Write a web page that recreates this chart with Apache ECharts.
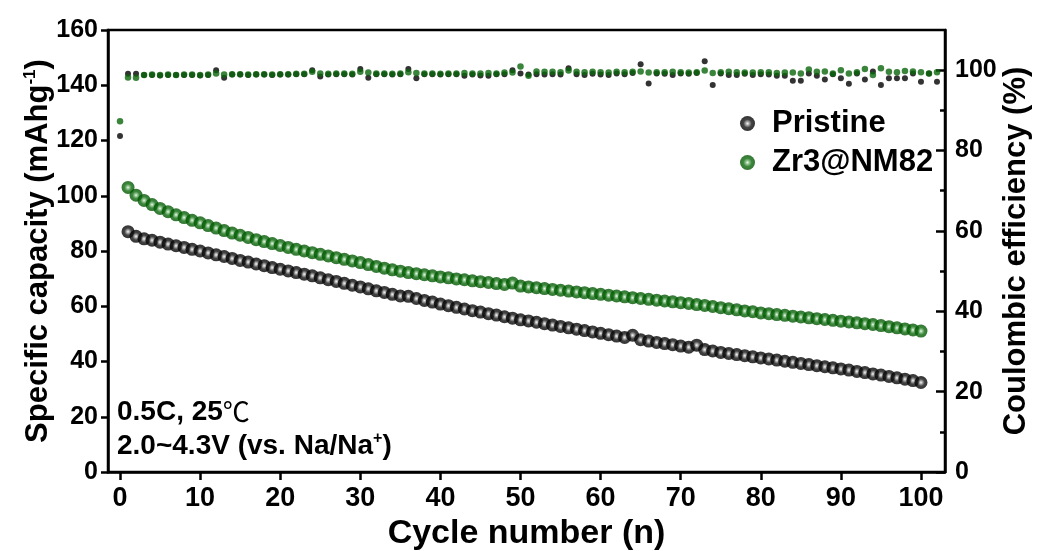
<!DOCTYPE html>
<html><head><meta charset="utf-8">
<script src="https://cdn.jsdelivr.net/npm/echarts@6/dist/echarts.min.js"></script>
<style>html,body{margin:0;padding:0;background:#fff}#c{width:1037px;height:551px}</style>
</head><body><div id="c"></div>
<script>
// Specific capacity, cycles 1..100
const pristineCap = [87.0,85.3,84.4,83.9,83.2,82.5,81.9,81.3,80.6,80.0,
79.3,78.6,78.0,77.3,76.6,76.0,75.3,74.7,74.0,73.4,
72.8,72.2,71.6,71.0,70.3,69.6,69.0,68.3,67.6,67.0,
66.3,65.6,65.0,64.3,63.7,63.6,62.8,62.1,61.5,60.8,
60.2,59.6,59.0,58.4,57.9,57.3,56.8,56.2,55.7,55.1,
54.7,54.2,53.7,53.2,52.7,52.2,51.7,51.2,50.7,50.2,
49.7,49.2,48.7,49.5,47.9,47.4,46.9,46.5,46.1,45.6,
45.2,45.9,44.3,43.8,43.3,42.9,42.5,42.1,41.7,41.3,
40.9,40.5,40.1,39.7,39.3,38.9,38.5,38.1,37.7,37.3,
36.9,36.4,36.0,35.5,35.1,34.6,34.1,33.6,33.1,32.4];
const zrCap = [103.0,100.2,98.3,96.8,95.4,94.2,93.1,92.1,91.1,90.2,
89.2,88.3,87.4,86.5,85.7,84.9,84.1,83.4,82.7,82.0,
81.3,80.6,80.0,79.4,78.8,78.2,77.6,77.0,76.4,75.8,
75.1,74.4,73.8,73.2,72.7,72.2,71.8,71.4,71.0,70.6,
70.3,69.9,69.6,69.2,68.9,68.6,68.2,67.9,68.4,67.3,
67.0,66.7,66.4,66.1,65.8,65.5,65.2,64.9,64.6,64.3,
64.0,63.7,63.4,63.1,62.8,62.5,62.2,61.9,61.6,61.3,
61.0,60.6,60.3,59.9,59.5,59.1,58.7,58.3,58.0,57.6,
57.3,57.0,56.7,56.4,56.1,55.8,55.5,55.2,54.9,54.6,
54.3,54.0,53.7,53.4,53.0,52.6,52.2,51.8,51.4,51.0];
// Coulombic efficiency, cycles 0..102
const pristineCE = [83.6,99.1,99.1,98.8,98.8,98.7,98.8,98.8,98.8,98.8,
98.7,98.8,100.0,98.1,98.9,98.9,98.8,98.9,98.9,98.8,
98.9,98.9,99.0,99.0,100.0,98.4,98.9,99.0,99.0,98.9,
100.3,98.1,99.0,99.0,98.9,99.0,100.3,98.0,99.0,99.0,
98.9,99.0,99.0,98.6,98.9,98.7,98.6,99.0,99.0,100.0,
99.2,98.9,99.0,98.9,99.0,98.9,100.5,99.0,98.8,99.1,
98.9,98.8,99.2,99.0,99.3,101.5,96.7,99.2,99.1,98.8,
99.2,99.1,99.3,102.2,96.3,99.2,98.8,98.8,99.1,98.8,
99.0,98.9,98.6,98.6,97.4,97.4,99.2,98.6,97.7,99.0,
98.0,96.6,99.2,97.7,99.7,96.3,98.0,98.0,98.0,99.2,
97.1,99.2,97.1];
const zrCE = [87.3,98.2,98.1,98.8,98.9,98.8,98.9,98.8,98.9,98.9,
98.8,98.9,99.2,98.9,99.0,99.0,98.9,99.0,99.0,98.9,
99.0,99.0,99.1,99.1,99.6,99.2,99.1,99.2,99.2,99.1,
99.6,99.4,99.2,99.2,99.1,99.2,99.5,99.3,99.2,99.2,
99.1,99.2,99.2,99.3,99.2,99.2,99.3,99.2,99.4,99.4,
100.9,98.6,99.7,99.6,99.6,99.5,99.9,99.6,99.5,99.6,
99.5,99.4,99.6,99.5,99.6,99.7,99.4,99.5,99.5,99.6,
99.5,99.4,99.5,99.9,99.3,99.5,99.6,99.5,99.4,99.4,
99.5,99.5,99.3,99.4,99.4,99.2,100.2,99.6,99.7,99.2,
100.0,99.2,99.5,100.3,98.8,100.5,99.6,99.5,99.8,99.7,
99.5,99.2,99.5];
const xTicks = [0,10,20,30,40,50,60,70,80,90,100];
const ceMajor = [0,20,40,60,80,100];
const ceMinor = [10,30,50,70,90];
const seriesNames = ['Pristine','Zr3@NM82'];

const capFirstCycle = 1, ceFirstCycle = 0;
const toXY = (arr, start) => arr.map((v,i)=>[start+i, v]);
const sphere = (stops) => ({type:'radial',x:0.5,y:0.5,r:0.5,
  colorStops:stops.map(s=>({offset:s[0],color:s[1]}))});
const blackSphere = sphere([[0,'#f4f4f4'],[0.22,'#9a9a9a'],[0.55,'#151515'],[1,'#000000']]);
const greenSphere = sphere([[0,'#eef8ee'],[0.22,'#7cba7c'],[0.55,'#0d6a0d'],[1,'#005400']]);

const F = 'Liberation Sans, Arial, sans-serif';
const AX = {color:'#000', width:2.5};

const chart = echarts.init(document.getElementById('c'), null, {renderer:'canvas'});
chart.setOption({
  animation:false,
  backgroundColor:'#fff',
  grid:{left:108,right:92,top:30,bottom:79,outerBoundsMode:'none',containLabel:false,
    show:true,borderColor:'#000',borderWidth:2.5,backgroundColor:'transparent'},
  legend:{data:seriesNames,orient:'vertical',left:735,top:103,itemWidth:15,itemHeight:15,itemGap:8,icon:'circle',
    textStyle:{fontFamily:F,fontWeight:'bold',fontSize:31,lineHeight:30,color:'#000',padding:[0,0,0,12]}},
  xAxis:{type:'value',min:-1.5,max:103,
    axisLine:{onZero:false,lineStyle:AX},
    axisTick:{customValues:xTicks,length:8,lineStyle:AX},
    axisLabel:{customValues:xTicks,fontFamily:F,fontWeight:'bold',fontSize:27,color:'#000',margin:13},
    splitLine:{show:false},
    name:'Cycle number (n)',nameLocation:'middle',nameGap:45,nameMoveOverlap:false,
    nameTextStyle:{fontFamily:F,fontWeight:'bold',fontSize:34,color:'#000'}},
  yAxis:[
    {type:'value',position:'left',min:0,max:160,interval:20,
      axisLine:{show:true,onZero:false,lineStyle:AX},axisTick:{show:true,length:7,lineStyle:AX},
      axisLabel:{fontFamily:F,fontWeight:'bold',fontSize:25,color:'#000',margin:10},
      splitLine:{show:false},
      name:'{a|Specific capacity (mAhg}{s|-1}{a|)}',nameLocation:'middle',nameGap:53,nameRotate:90,
      nameMoveOverlap:false,
      nameTextStyle:{color:'#000',rich:{
        a:{fontFamily:F,fontWeight:'bold',fontSize:31,color:'#000'},
        s:{fontFamily:F,fontWeight:'bold',fontSize:17,color:'#000',padding:[0,0,16,0]}}}},
    {type:'value',position:'right',min:0,max:110,
      axisLine:{show:true,onZero:false,lineStyle:AX},
      axisTick:{show:true,customValues:ceMajor,inside:true,length:9,lineStyle:AX},
      axisLabel:{customValues:ceMajor,fontFamily:F,fontWeight:'bold',fontSize:25,color:'#000',margin:10},
      splitLine:{show:false},
      name:'Coulombic efficiency (%)',nameLocation:'middle',nameGap:56,nameRotate:90,nameMoveOverlap:false,
      nameTextStyle:{fontFamily:F,fontWeight:'bold',fontSize:31,color:'#000'}},
    {type:'value',position:'right',min:0,max:110,
      axisLine:{show:false,onZero:false},
      axisTick:{show:true,customValues:ceMinor,inside:true,length:5,lineStyle:AX},
      axisLabel:{show:false},splitLine:{show:false}}
  ],
  series:[
    {name:'Pristine CE',type:'scatter',yAxisIndex:1,data:toXY(pristineCE,ceFirstCycle),symbolSize:6,
      itemStyle:{color:'#000'},z:2},
    {name:'Zr3@NM82 CE',type:'scatter',yAxisIndex:1,data:toXY(zrCE,ceFirstCycle),symbolSize:6.5,
      itemStyle:{color:'#0a650a'},z:3},
    {name:seriesNames[0],type:'scatter',yAxisIndex:0,data:toXY(pristineCap,capFirstCycle),symbolSize:13,
      itemStyle:{color:blackSphere},z:4},
    {name:seriesNames[1],type:'scatter',yAxisIndex:0,data:toXY(zrCap,capFirstCycle),symbolSize:13,
      itemStyle:{color:greenSphere},z:5}
  ],
  graphic:[
    {type:'text',left:117,top:398,z:10,style:{text:'{a|0.5C, 25}{c|℃}',rich:{
      a:{fontFamily:F,fontWeight:'bold',fontSize:28,fill:'#000'},
      c:{fontFamily:'Noto Sans CJK SC',fontWeight:'normal',fontSize:27,fill:'#000'}}}},
    {type:'text',left:117,top:431,z:10,style:{text:'{a|2.0~4.3V (vs. Na/Na}{s|+}{a|)}',rich:{
      a:{fontFamily:F,fontWeight:'bold',fontSize:28,fill:'#000'},
      s:{fontFamily:F,fontWeight:'bold',fontSize:16,fill:'#000',padding:[0,0,14,0]}}}}
  ]
});
</script></body></html>
